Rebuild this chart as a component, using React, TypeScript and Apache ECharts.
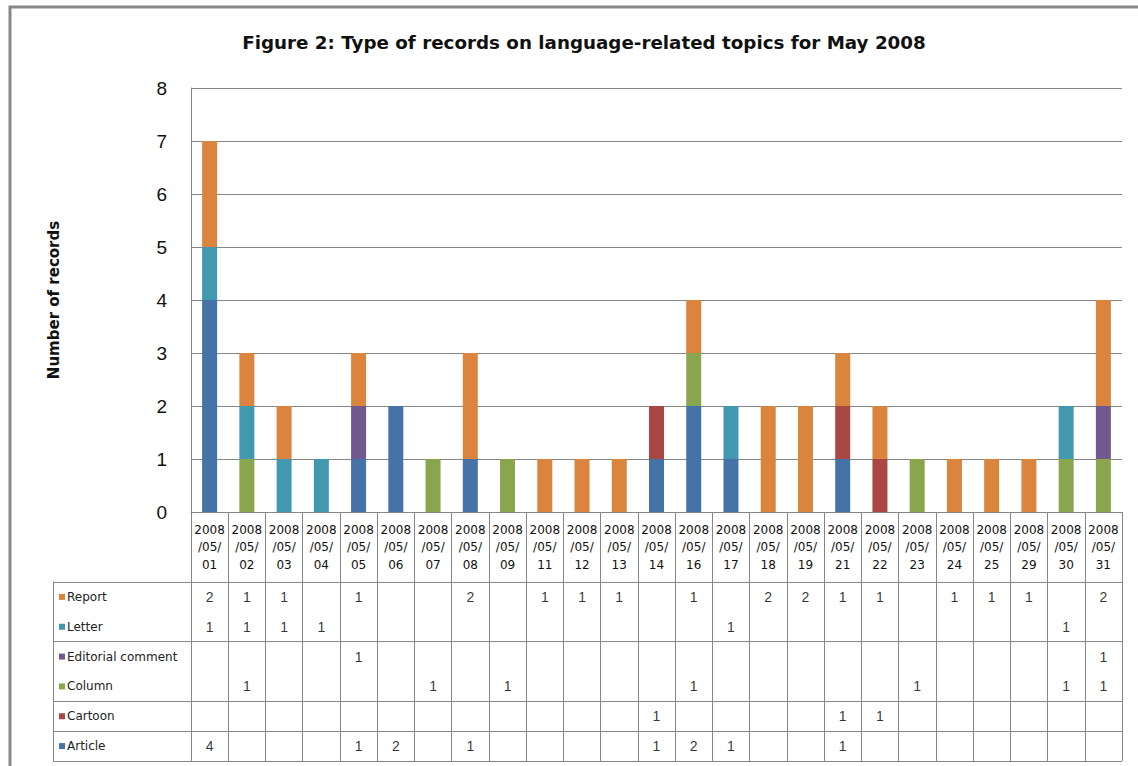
import React, { useEffect, useRef } from "react";
import * as echarts from "echarts";

// Publication dates (May 2008)
const categories = [
  "2008/05/01", "2008/05/02", "2008/05/03", "2008/05/04", "2008/05/05",
  "2008/05/06", "2008/05/07", "2008/05/08", "2008/05/09", "2008/05/11",
  "2008/05/12", "2008/05/13", "2008/05/14", "2008/05/16", "2008/05/17",
  "2008/05/18", "2008/05/19", "2008/05/21", "2008/05/22", "2008/05/23",
  "2008/05/24", "2008/05/25", "2008/05/29", "2008/05/30", "2008/05/31",
];

// Record counts per type, one value per date
const article = [4, 0, 0, 0, 1, 2, 0, 1, 0, 0, 0, 0, 1, 2, 1, 0, 0, 1, 0, 0, 0, 0, 0, 0, 0];
const cartoon = [0, 0, 0, 0, 0, 0, 0, 0, 0, 0, 0, 0, 1, 0, 0, 0, 0, 1, 1, 0, 0, 0, 0, 0, 0];
const column = [0, 1, 0, 0, 0, 0, 1, 0, 1, 0, 0, 0, 0, 1, 0, 0, 0, 0, 0, 1, 0, 0, 0, 1, 1];
const editorialComment = [0, 0, 0, 0, 1, 0, 0, 0, 0, 0, 0, 0, 0, 0, 0, 0, 0, 0, 0, 0, 0, 0, 0, 0, 1];
const letter = [1, 1, 1, 1, 0, 0, 0, 0, 0, 0, 0, 0, 0, 0, 1, 0, 0, 0, 0, 0, 0, 0, 0, 1, 0];
const report = [2, 1, 1, 0, 1, 0, 0, 2, 0, 1, 1, 1, 0, 1, 0, 2, 2, 1, 1, 0, 1, 1, 1, 0, 2];

// Y axis ticks
const yTicks = { min: 0, max: 8, interval: 1 };

// Stack order, bottom to top
const seriesDefs = [
  { name: "Article", data: article, color: "#4572A7" },
  { name: "Cartoon", data: cartoon, color: "#AA4643" },
  { name: "Column", data: column, color: "#89A54E" },
  { name: "Editorial comment", data: editorialComment, color: "#71588F" },
  { name: "Letter", data: letter, color: "#4198AF" },
  { name: "Report", data: report, color: "#DB843D" },
];

// Data table rows, top to bottom
const tableRows = [...seriesDefs].reverse();
// Rows that carry a rule along their top edge
const ruledRows = [0, 2, 4, 5];

const LINE = "#868686";
const FONT = "Liberation Sans";
const WIDE = "DejaVu Sans";

export default function App() {
  const ref = useRef<HTMLDivElement>(null);

  useEffect(() => {
    if (!ref.current) return;
    const chart = echarts.init(ref.current, null, { renderer: "svg" });

    const tableData: any[] = [];
    tableRows.forEach((row, r) => {
      row.data.forEach((v, c) => {
        if (v > 0) tableData.push({ value: [c, r, v] });
      });
    });

    const rich: Record<string, any> = {
      t: { fontSize: 12, color: "#222", fontFamily: WIDE, padding: [0, 0, 0, 2] },
    };
    tableRows.forEach((row, i) => {
      rich["s" + i] = { width: 6, height: 6, backgroundColor: row.color };
    });

    const ruled = (idx: number) => ruledRows.includes(idx);

    chart.setOption({
      animation: false,
      backgroundColor: "#fff",
      title: {
        text: "Figure 2: Type of records on language-related topics for May 2008",
        left: 579,
        top: 28,
        textAlign: "center",
        textStyle: { fontFamily: WIDE, fontSize: 18.3, fontWeight: "bold", color: "#111" },
      },
      graphic: [
        {
          type: "rect",
          shape: { x: 10, y: 7, width: 1200, height: 800 },
          style: { fill: "none", stroke: "#888", lineWidth: 3 },
          silent: true,
        },
      ],
      grid: [
        { left: 191, right: 16, top: 88, bottom: 254 },
        { left: 191, right: 16, top: 582, bottom: 5 },
      ],
      xAxis: [
        {
          type: "category",
          gridIndex: 0,
          data: categories,
          axisLine: { show: true, lineStyle: { color: LINE, width: 1 } },
          axisTick: { show: true, length: 249, lineStyle: { color: LINE, width: 1 } },
          axisLabel: {
            interval: 0,
            margin: 9,
            fontSize: 12,
            lineHeight: 17.5,
            color: "#111",
            fontFamily: WIDE,
            formatter: (v: string) => {
              const [y, m, d] = v.split("/");
              return `${y}\n/${m}/\n${d}`;
            },
          },
        },
        {
          type: "category",
          gridIndex: 1,
          data: categories,
          show: false,
        },
      ],
      yAxis: [
        {
          type: "value",
          gridIndex: 0,
          min: yTicks.min,
          max: yTicks.max,
          interval: yTicks.interval,
          name: "Number of records",
          nameLocation: "middle",
          nameGap: 130,
          nameTextStyle: { fontFamily: WIDE, fontSize: 15, fontWeight: "bold", color: "#111" },
          axisLine: { show: true, lineStyle: { color: LINE, width: 1 } },
          axisTick: { show: false },
          splitLine: { show: true, lineStyle: { color: LINE, width: 1 } },
          axisLabel: { fontSize: 19, margin: 24, color: "#111", fontFamily: FONT },
        },
        {
          type: "category",
          gridIndex: 1,
          inverse: true,
          data: tableRows.map((r) => r.name),
          offset: 138,
          axisLine: { show: true, lineStyle: { color: LINE, width: 1 } },
          axisTick: {
            show: true,
            inside: true,
            length: 138,
            interval: ruled,
            lineStyle: { color: LINE, width: 1 },
          },
          splitLine: { show: true, interval: ruled, lineStyle: { color: LINE, width: 1 } },
          axisLabel: {
            inside: true,
            margin: 6,
            interval: 0,
            formatter: (v: string, i: number) => `{s${i}| }{t|${v}}`,
            rich,
          },
        },
      ],
      series: [
        ...seriesDefs.map((s) => ({
          name: s.name,
          type: "bar",
          stack: "records",
          xAxisIndex: 0,
          yAxisIndex: 0,
          barWidth: 15,
          data: s.data,
          itemStyle: { color: s.color },
          silent: true,
        })),
        {
          type: "scatter",
          xAxisIndex: 1,
          yAxisIndex: 1,
          symbolSize: 1,
          itemStyle: { color: "rgba(0,0,0,0)" },
          data: tableData,
          silent: true,
          label: {
            show: true,
            position: "inside",
            formatter: (p: any) => String(p.value[2]),
            fontSize: 14,
            color: "#000",
            fontFamily: FONT,
          },
        },
      ],
    });

    return () => chart.dispose();
  }, []);

  return (
    <div
      ref={ref}
      style={{ position: "absolute", left: 0, top: 0, width: 1138, height: 766, background: "#fff" }}
    />
  );
}
